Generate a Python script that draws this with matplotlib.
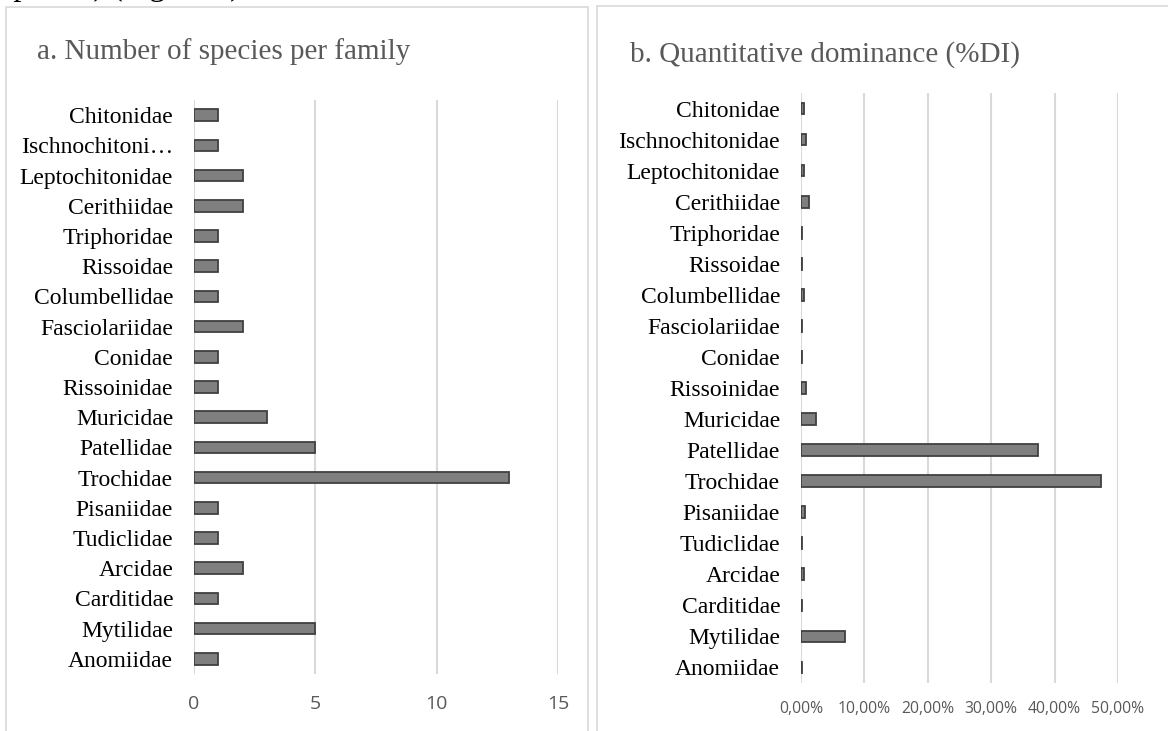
import matplotlib.pyplot as plt
from matplotlib.patches import Rectangle
from matplotlib.ticker import FuncFormatter

# Families, top to bottom as shown
families = ["Chitonidae", "Ischnochitonidae", "Leptochitonidae", "Cerithiidae",
            "Triphoridae", "Rissoidae", "Columbellidae", "Fasciolariidae",
            "Conidae", "Rissoinidae", "Muricidae", "Patellidae", "Trochidae",
            "Pisaniidae", "Tudiclidae", "Arcidae", "Carditidae", "Mytilidae",
            "Anomiidae"]
# left panel shows a truncated label for the long name
left_labels = ["Ischnochitoni…" if f == "Ischnochitonidae" else f for f in families]

n_species = [1, 1, 2, 2, 1, 1, 1, 2, 1, 1, 3, 5, 13, 1, 1, 2, 1, 5, 1]
dominance = [0.005, 0.008, 0.004, 0.013, 0.002, 0.002, 0.004, 0.002, 0.001,
             0.008, 0.023, 0.374, 0.473, 0.007, 0.001, 0.004, 0.002, 0.069,
             0.002]

left_ticks = [0, 5, 10, 15]
right_ticks = [0.0, 0.1, 0.2, 0.3, 0.4, 0.5]

W, H = 1168, 731
bar_fc = '#7f7f7f'
bar_ec = '#404040'
grid_c = '#d9d9d9'
title_c = '#595959'
serif = 'Liberation Serif'
sans = 'Open Sans'

fig = plt.figure(figsize=(W / 100, H / 100), dpi=100)


def fx(px):
    return px / W


def fy(py):
    return 1 - py / H


# panel borders (chart areas run past the page crop)
fig.patches.append(Rectangle((fx(5.5), fy(760)), fx(588 - 5.5), (760 - 6.5) / H,
                             transform=fig.transFigure, fill=False,
                             edgecolor=grid_c, linewidth=1.2))
fig.patches.append(Rectangle((fx(597), fy(760)), fx(620), (760 - 5.5) / H,
                             transform=fig.transFigure, fill=False,
                             edgecolor=grid_c, linewidth=1.2))

# remnant of the document line above the figure (only its descenders show)
fig.text(fx(1), 1.007, "species) (Figure 2).", fontsize=23, family=serif,
         color='black', va='baseline', ha='left')


def style_axis(ax, labels, ticks, xmax, tick_size, pad_x):
    y = list(range(len(labels)))
    ax.set_ylim(len(labels) - 0.5, -0.5)
    ax.set_xlim(0, xmax)
    ax.set_yticks(y)
    ax.set_yticklabels(labels, family=serif, fontsize=17, color='black')
    ax.set_xticks(ticks)
    for lab in ax.get_xticklabels():
        lab.set_family(sans)
        lab.set_fontsize(tick_size)
        lab.set_color(title_c)
    ax.tick_params(axis='y', length=0, pad=15)
    ax.tick_params(axis='x', length=0, pad=pad_x)
    for s in ax.spines.values():
        s.set_visible(False)
    ax.grid(axis='x', color=grid_c, linewidth=1.5)
    ax.set_axisbelow(True)


# a. number of species
ax1 = fig.add_axes([fx(194), fy(674), fx(558 - 194), (674 - 100) / H])
ax1.barh(range(len(families)), n_species, height=0.385, color=bar_fc,
         edgecolor=bar_ec, linewidth=1.3)
style_axis(ax1, left_labels, left_ticks, 15, 14, 15)
fig.text(fx(37), fy(52), "a. Number of species per family", family=serif,
         fontsize=21, color=title_c, va='center', ha='left')

# b. quantitative dominance
ax2 = fig.add_axes([fx(801), fy(683), fx(1118 - 801), (683 - 93) / H])
ax2.barh(range(len(families)), dominance, height=0.375, color=bar_fc,
         edgecolor=bar_ec, linewidth=1.3)
style_axis(ax2, families, right_ticks, 0.5, 11.3, 13)
ax2.xaxis.set_major_formatter(FuncFormatter(
    lambda v, p: f"{v * 100:.2f}%".replace('.', ',')))
for lab in ax2.get_xticklabels():
    lab.set_family(sans)
    lab.set_fontsize(11.3)
    lab.set_color(title_c)
fig.text(fx(630), fy(55), "b. Quantitative dominance (%DI)", family=serif,
         fontsize=21, color=title_c, va='center', ha='left')

fig.savefig('out.png', dpi=100)
